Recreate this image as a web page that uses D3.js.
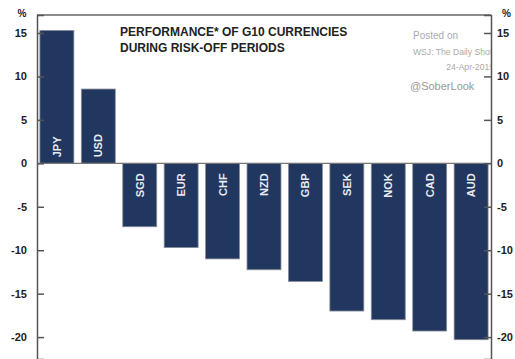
<!DOCTYPE html>
<meta charset="utf-8">
<html>
<head>
<style>
  body { margin: 0; background: #fff; }
  text { font-family: "Liberation Sans", Arial, sans-serif; }
</style>
</head>
<body>
<div id="chart"></div>
<script src="https://d3js.org/d3.v7.min.js"></script>
<script>

var currencies = ["JPY", "USD", "SGD", "EUR", "CHF", "NZD", "GBP", "SEK", "NOK", "CAD", "AUD"];
var performance = [15.3, 8.55, -7.3, -9.7, -11.0, -12.25, -13.6, -17.0, -18.0, -19.3, -20.3];
var yTicks = [15, 10, 5, 0, -5, -10, -15, -20];
var titleLines = ["PERFORMANCE* OF G10 CURRENCIES", "DURING RISK-OFF PERIODS"];

var width = 515, height = 359;
var plotLeft = 37, plotRight = 491, plotTop = 15, plotBottom = 359;

var svg = d3.select("#chart")
  .append("svg")
    .attr("width", width)
    .attr("height", height);

var x = d3.scaleBand()
    .domain(currencies)
    .range([plotLeft, plotRight])
    .paddingInner(0.18)
    .paddingOuter(0.07);

var y = d3.scaleLinear()
    .domain([-22.52, 17.07])
    .range([plotBottom, plotTop]);

var data = currencies.map(function(c, i) { return {name: c, value: performance[i]}; });

// bars
svg.append("g")
  .selectAll("rect")
  .data(data)
  .enter().append("rect")
    .attr("x", function(d) { return x(d.name); })
    .attr("y", function(d) { return y(Math.max(0, d.value)); })
    .attr("width", x.bandwidth())
    .attr("height", function(d) { return Math.abs(y(d.value) - y(0)); })
    .attr("fill", "#22375f")
    .attr("stroke", "#8a8f99")
    .attr("stroke-width", 0.8);

// labels inside bars
svg.append("g")
  .selectAll("text")
  .data(data)
  .enter().append("text")
    .attr("transform", function(d) {
      var cx = x(d.name) + x.bandwidth() / 2 + 4;
      var cy = d.value > 0 ? y(0) - 6 : y(0) + 10;
      return "translate(" + cx + "," + cy + ") rotate(-90)";
    })
    .style("text-anchor", function(d) { return d.value > 0 ? "start" : "end"; })
    .style("font-size", "11px")
    .style("font-weight", "bold")
    .attr("fill", "#e8ebf2")
    .text(function(d) { return d.name; });

// zero line
svg.append("line")
  .attr("x1", plotLeft).attr("x2", plotRight)
  .attr("y1", y(0)).attr("y2", y(0))
  .attr("stroke", "#777").attr("stroke-width", 1.2);

// frame top
svg.append("line")
  .attr("x1", plotLeft).attr("x2", plotRight)
  .attr("y1", plotTop).attr("y2", plotTop)
  .attr("stroke", "#666").attr("stroke-width", 1.5);

// left axis
var yLeft = svg.append("g")
  .attr("transform", "translate(" + plotLeft + ",0)")
  .call(d3.axisRight(y).tickValues(yTicks).tickSize(7).tickFormat(""));
yLeft.select(".domain").attr("stroke", "#555").attr("stroke-width", 1.5);
yLeft.selectAll(".tick line").attr("stroke", "#555").attr("stroke-width", 1.5);

svg.append("g")
  .selectAll("text")
  .data(yTicks)
  .enter().append("text")
    .attr("x", 27)
    .attr("y", function(d) { return y(d); })
    .attr("dy", "0.35em")
    .style("text-anchor", "end")
    .style("font-size", "11px")
    .style("font-weight", "bold")
    .attr("fill", "#222")
    .text(function(d) { return d; });

// right axis
var yRight = svg.append("g")
  .attr("transform", "translate(" + plotRight + ",0)")
  .call(d3.axisLeft(y).tickValues(yTicks).tickSize(7).tickFormat(""));
yRight.select(".domain").attr("stroke", "#555").attr("stroke-width", 1.5);
yRight.selectAll(".tick line").attr("stroke", "#555").attr("stroke-width", 1.5);

svg.append("g")
  .selectAll("text")
  .data(yTicks)
  .enter().append("text")
    .attr("x", 497)
    .attr("y", function(d) { return y(d); })
    .attr("dy", "0.35em")
    .style("text-anchor", "start")
    .style("font-size", "11px")
    .style("font-weight", "bold")
    .attr("fill", "#222")
    .text(function(d) { return d; });

// % units
svg.append("text").attr("x", 22).attr("y", 17).style("text-anchor", "middle")
  .style("font-size", "10px").style("font-weight", "bold").attr("fill", "#222").text("%");
svg.append("text").attr("x", 502).attr("y", 17).style("text-anchor", "start")
  .style("font-size", "10px").style("font-weight", "bold").attr("fill", "#222").text("%");

// title
svg.append("g")
  .selectAll("text")
  .data(titleLines)
  .enter().append("text")
    .attr("x", 120)
    .attr("y", function(d, i) { return 36 + i * 16; })
    .style("font-size", "12px")
    .style("font-weight", "bold")
    .attr("fill", "#222")
    .text(function(d) { return d; });

// watermark
svg.append("text").attr("x", 413).attr("y", 39).style("font-size", "10px").attr("fill", "#aaa").text("Posted on");
svg.append("clipPath").attr("id", "wm").append("rect").attr("x", 400).attr("y", 0).attr("width", plotRight - 400).attr("height", 100);
svg.append("text").attr("x", 413).attr("y", 55).attr("clip-path", "url(#wm)").style("font-size", "8.6px").attr("fill", "#aaa").text("WSJ: The Daily Shot");
svg.append("text").attr("x", 494).attr("y", 70).attr("clip-path", "url(#wm)").style("text-anchor", "end").style("font-size", "8.6px").attr("fill", "#aaa").text("24-Apr-2019");
svg.append("text").attr("x", 410).attr("y", 90).style("font-size", "11px").attr("fill", "#999").text("@SoberLook");

</script>
</body>
</html>
